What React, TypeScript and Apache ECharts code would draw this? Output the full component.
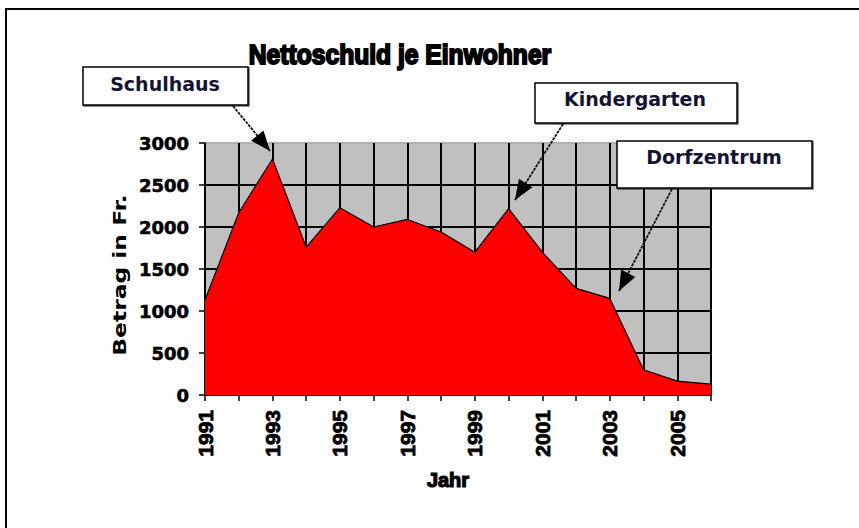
import React, { useEffect, useRef } from "react";
import * as echarts from "echarts";

const years = ["1991", "1992", "1993", "1994", "1995", "1996", "1997", "1998", "1999", "2000", "2001", "2002", "2003", "2004", "2005", "2006"];
const debt = [1130, 2170, 2810, 1760, 2230, 2000, 2090, 1940, 1700, 2220, 1700, 1270, 1150, 300, 165, 130];
const titleText = "Nettoschuld je Einwohner";
const xName = "Jahr";
const yName = "Betrag in Fr.";
const notes = [
  { text: "Schulhaus", box: [83, 67, 165, 38], tc: [165, 84], from: [233, 106], to: [270, 151] },
  { text: "Kindergarten", box: [535, 83, 202, 40], tc: [635, 99], from: [563, 124], to: [515, 200] },
  { text: "Dorfzentrum", box: [617, 141, 195, 47], tc: [714, 157], from: [672, 189], to: [619, 291] },
];

function arrowHead(from: number[], to: number[], L: number, W: number) {
  const dx = to[0] - from[0];
  const dy = to[1] - from[1];
  const len = Math.sqrt(dx * dx + dy * dy);
  const ux = dx / len, uy = dy / len;
  const bx = to[0] - ux * L, by = to[1] - uy * L;
  const nx = -uy, ny = ux;
  return [
    [to[0], to[1]],
    [bx + nx * W, by + ny * W],
    [bx - nx * W, by - ny * W],
  ];
}

export default function App() {
  const ref = useRef<HTMLDivElement>(null);
  useEffect(() => {
    if (!ref.current) return;
    const chart = echarts.init(ref.current, null, { renderer: "svg" });
    const graphics: any[] = [
      {
        type: "polyline",
        shape: { points: [[6, 700], [6, 9], [1200, 9]] },
        style: { fill: "none", stroke: "#000", lineWidth: 2 },
        silent: true,
      },
      {
        type: "text",
        x: 400,
        y: 54,
        scaleX: 0.88,
        style: {
          text: titleText,
          font: 'bold 28px "Liberation Sans", Arial, sans-serif',
          fill: "#000",
          stroke: "#000",
          lineWidth: 2,
          align: "center",
          verticalAlign: "middle",
        },
      },
      {
        type: "text",
        x: 448,
        y: 480,
        style: {
          text: xName,
          font: 'bold 20px "Liberation Sans", Arial, sans-serif',
          fill: "#000",
          stroke: "#000",
          lineWidth: 1.2,
          align: "center",
          verticalAlign: "middle",
        },
      },
      {
        type: "text",
        x: 120,
        y: 275,
        rotation: Math.PI / 2,
        scaleX: 1.3,
        style: {
          text: yName,
          font: 'bold 18px "DejaVu Sans", sans-serif',
          fill: "#000",
          align: "center",
          verticalAlign: "middle",
        },
      },
    ];
    notes.forEach((n) => {
      graphics.push({
        type: "line",
        shape: { x1: n.from[0], y1: n.from[1], x2: n.to[0], y2: n.to[1] },
        style: { stroke: "#111", lineWidth: 1.8, lineDash: [3, 1] },
        z: 10,
      });
      graphics.push({
        type: "polygon",
        shape: { points: arrowHead(n.from, n.to, 20, 8) },
        style: { fill: "#000" },
        z: 10,
      });
      graphics.push({
        type: "rect",
        shape: { x: n.box[0], y: n.box[1], width: n.box[2], height: n.box[3] },
        style: {
          fill: "#fff",
          stroke: "#000",
          lineWidth: 1.5,
          shadowColor: "rgba(0,0,0,0.6)",
          shadowOffsetX: 1,
          shadowOffsetY: 1,
          shadowBlur: 0,
        },
        z: 11,
      });
      graphics.push({
        type: "text",
        x: n.tc[0],
        y: n.tc[1],
        style: {
          text: n.text,
          font: 'bold 19px "DejaVu Sans", sans-serif',
          fill: "#141432",
          align: "center",
          verticalAlign: "middle",
        },
        z: 12,
      });
    });

    chart.setOption({
      animation: false,
      backgroundColor: "#fff",
      grid: {
        left: 205,
        top: 143,
        right: 148,
        bottom: 133,
        show: true,
        backgroundColor: "#C0C0C0",
        borderWidth: 0,
      },
      xAxis: {
        type: "category",
        data: years,
        boundaryGap: false,
        axisLine: { show: true, lineStyle: { color: "#000", width: 1.5 } },
        axisTick: { show: true, interval: 0, length: 6, lineStyle: { color: "#000", width: 1.5 } },
        axisLabel: {
          interval: 1,
          rotate: 90,
          margin: 15,
          color: "#000",
          fontFamily: '"Liberation Sans", Arial, sans-serif',
          fontWeight: "bold",
          fontSize: 21,
          textBorderColor: "#000",
          textBorderWidth: 0.8,
        },
        splitLine: { show: true, interval: 0, lineStyle: { color: "#000", width: 2 } },
      },
      yAxis: {
        type: "value",
        min: 0,
        max: 3000,
        interval: 500,
        axisLine: { show: true, lineStyle: { color: "#000", width: 1.5 } },
        axisTick: { show: true, length: 6, lineStyle: { color: "#000", width: 1.5 } },
        axisLabel: {
          margin: 16,
          color: "#000",
          fontFamily: '"DejaVu Sans", sans-serif',
          fontWeight: "bold",
          fontSize: 18,
          textBorderColor: "#000",
          textBorderWidth: 0.6,
          formatter: (v: number) => String(v),
        },
        splitLine: {
          show: true,
          lineStyle: {
            color: ["#000", "#000", "#000", "#000", "#000", "#000", "#B0B0B0"],
            width: 2,
          },
        },
      },
      series: [
        {
          type: "line",
          data: debt,
          symbol: "none",
          lineStyle: { color: "#000", width: 1.2 },
          areaStyle: { color: "#FF0000", opacity: 1 },
        },
      ],
      graphic: graphics,
    });
    return () => chart.dispose();
  }, []);
  return (
    <div
      ref={ref}
      style={{ position: "fixed", left: 0, top: 0, width: 859, height: 528 }}
    />
  );
}
